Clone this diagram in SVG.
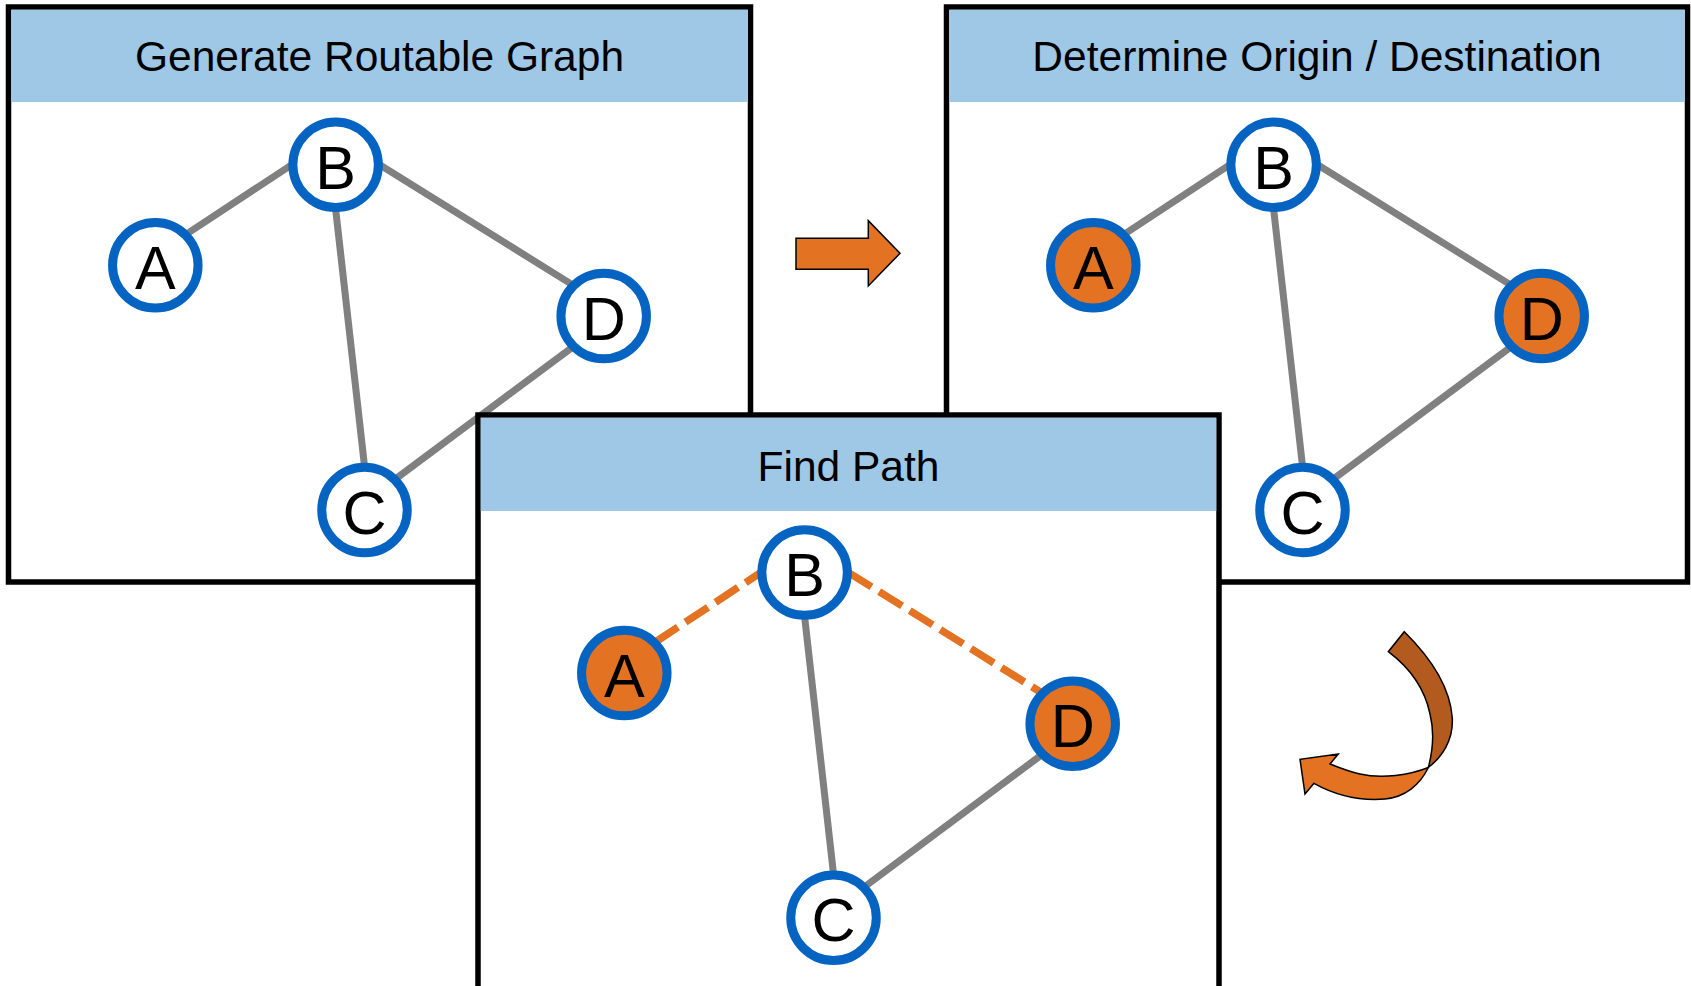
<svg xmlns="http://www.w3.org/2000/svg" width="1691" height="986" viewBox="0 0 1691 986">
<style>
.panel{fill:#ffffff;stroke:#000000;stroke-width:5.5}
.hdr{fill:#9FC7E6}
.title{font-family:"Liberation Sans",Arial,sans-serif;font-size:42.5px;fill:#000000;text-anchor:middle}
.ring{fill:#ffffff;stroke:#0563C1;stroke-width:9}
.ring.sel{fill:#E37222}
.lbl{font-family:"Liberation Sans",Arial,sans-serif;font-size:61px;fill:#000000;text-anchor:middle}
.edge{stroke:#808080;stroke-width:7;fill:none}
.path{stroke:#E37222;stroke-width:7.5;fill:none;stroke-dasharray:27 9}
.arrow{stroke:#000000;stroke-width:1.5;stroke-linejoin:miter}
</style>
<rect width="1691" height="986" fill="#ffffff"/>

<!-- Panel 1 -->
<g id="panel-generate">
<rect class="panel" x="8.5" y="7" width="742" height="575"/>
<rect class="hdr" x="11.25" y="9.75" width="736.5" height="92.25"/>
<text class="title" x="379.5" y="71">Generate Routable Graph</text>
</g>
<g id="p1-connectors">
<line class="edge" x1="186.4" y1="234.2" x2="291.6" y2="164.8"/>
<line class="edge" x1="335.6" y1="208.8" x2="364.5" y2="466"/>
<line class="edge" x1="379.6" y1="164.8" x2="572.6" y2="284.9"/>
<line class="edge" x1="572.6" y1="347.1" x2="395.6" y2="478.9"/>
</g>
<g id="p1-node-A"><circle class="ring" cx="155.3" cy="265.3" r="42.75"/><text class="lbl" x="155.3" y="289">A</text></g>
<g id="p1-node-B"><circle class="ring" cx="335.6" cy="164.8" r="42.75"/><text class="lbl" x="335.6" y="188.5">B</text></g>
<g id="p1-node-C"><circle class="ring" cx="364.5" cy="510" r="42.75"/><text class="lbl" x="364.5" y="533.5">C</text></g>
<g id="p1-node-D"><circle class="ring" cx="603.7" cy="316" r="42.75"/><text class="lbl" x="603.7" y="339.5">D</text></g>

<!-- Panel 2 -->
<g id="panel-determine">
<rect class="panel" x="946.5" y="7" width="741" height="575"/>
<rect class="hdr" x="949.25" y="9.75" width="735.5" height="92.25"/>
<text class="title" x="1317" y="71">Determine Origin / Destination</text>
</g>
<g id="p2-connectors" transform="translate(938,0)">
<line class="edge" x1="186.4" y1="234.2" x2="291.6" y2="164.8"/>
<line class="edge" x1="335.6" y1="208.8" x2="364.5" y2="466"/>
<line class="edge" x1="379.6" y1="164.8" x2="572.6" y2="284.9"/>
<line class="edge" x1="572.6" y1="347.1" x2="395.6" y2="478.9"/>
</g>
<g id="p2-node-A"><circle class="ring sel" cx="1093.3" cy="265.3" r="42.75"/><text class="lbl" x="1093.3" y="289">A</text></g>
<g id="p2-node-B"><circle class="ring" cx="1273.6" cy="164.8" r="42.75"/><text class="lbl" x="1273.6" y="188.5">B</text></g>
<g id="p2-node-C"><circle class="ring" cx="1302.5" cy="510" r="42.75"/><text class="lbl" x="1302.5" y="533.5">C</text></g>
<g id="p2-node-D"><circle class="ring sel" cx="1541.7" cy="316" r="42.75"/><text class="lbl" x="1541.7" y="339.5">D</text></g>

<!-- Panel 3 -->
<g id="panel-find">
<rect class="panel" x="478" y="415" width="741" height="575"/>
<rect class="hdr" x="480.75" y="417.75" width="735.5" height="93.25"/>
<text class="title" x="848.5" y="480.5">Find Path</text>
</g>
<g id="p3-connectors" transform="translate(469,407.8)">
<line class="path" x1="186.4" y1="234.2" x2="291.6" y2="164.8"/>
<line class="edge" x1="335.6" y1="208.8" x2="364.5" y2="466"/>
<line class="path" x1="379.6" y1="164.8" x2="572.6" y2="284.9"/>
<line class="edge" x1="572.6" y1="347.1" x2="395.6" y2="478.9"/>
</g>
<g id="p3-node-A"><circle class="ring sel" cx="624.3" cy="673.1" r="42.75"/><text class="lbl" x="624.3" y="696.8">A</text></g>
<g id="p3-node-B"><circle class="ring" cx="804.6" cy="572.6" r="42.75"/><text class="lbl" x="804.6" y="596.3">B</text></g>
<g id="p3-node-C"><circle class="ring" cx="833.5" cy="917.8" r="42.75"/><text class="lbl" x="833.5" y="941.3">C</text></g>
<g id="p3-node-D"><circle class="ring sel" cx="1072.7" cy="723.8" r="42.75"/><text class="lbl" x="1072.7" y="747.3">D</text></g>

<!-- Step arrows -->
<g id="arrow-right">
<path class="arrow" fill="#E37222" d="M796,238.3 L868.3,238.3 L868.3,220.7 L900,253.3 L868.3,286 L868.3,269.3 L796,269.3 Z"/>
</g>
<g id="arrow-curved">
<path class="arrow" fill="#B35B1E" d="M1404.3,631.7 C1428,655 1450,685 1452.3,718 C1453.5,740 1442,757 1428.3,767.5 C1433,750 1434,730 1430,714 C1425,690 1410,668 1388.3,651.7 Z"/>
<path class="arrow" fill="#E37222" d="M1428.3,767.5 C1410,775 1382,779 1360,774 C1350,772 1340,768 1330,764 L1338.3,754 L1300,759.3 L1305,794 L1314,783.3 C1335,795 1360,801 1385,799 C1405,797 1420,785 1428.3,767.5 Z"/>
</g>
</svg>
